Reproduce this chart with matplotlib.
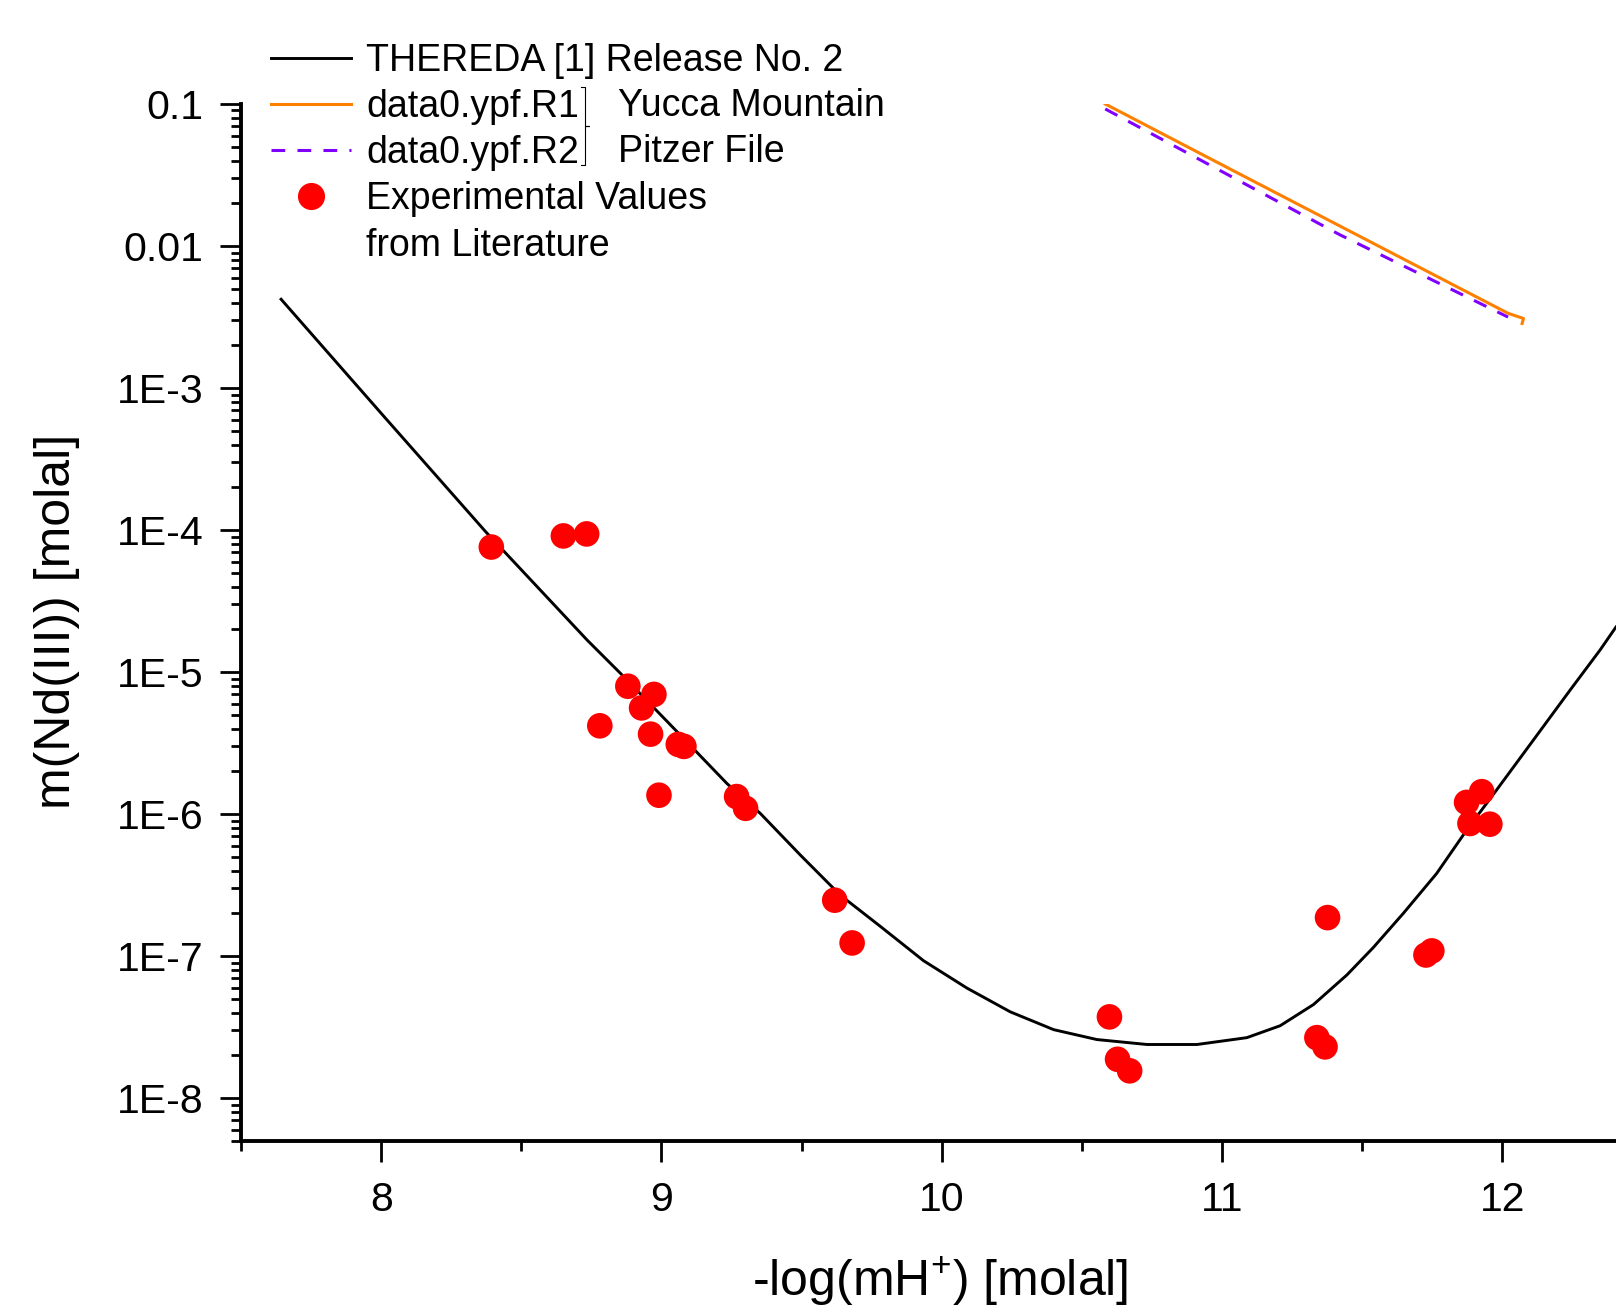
import matplotlib
matplotlib.use("Agg")
import matplotlib.pyplot as plt
from matplotlib.lines import Line2D
from matplotlib.ticker import FixedLocator, FuncFormatter, LogLocator, MultipleLocator, NullFormatter

plt.rcParams['font.family'] = ['Liberation Sans', 'DejaVu Sans']
plt.rcParams['mathtext.fontset'] = 'custom'
plt.rcParams['mathtext.rm'] = 'Liberation Sans'
plt.rcParams['mathtext.default'] = 'regular'

# THEREDA curve
thereda_x = [7.643, 8.010, 8.373, 8.735, 8.854, 9.056, 9.234, 9.353, 9.496, 9.638,
             9.781, 9.935, 10.090, 10.244, 10.399, 10.553, 10.732, 10.910, 11.088,
             11.207, 11.326, 11.445, 11.539, 11.646, 11.765, 11.872, 11.979, 12.110,
             12.241, 12.348, 12.405]
thereda_y = [4.22e-3, 6.31e-4, 9.73e-5, 1.68e-5, 9.79e-6, 3.80e-6, 1.64e-6, 1.01e-6,
             5.14e-7, 2.69e-7, 1.62e-7, 9.29e-8, 5.96e-8, 4.06e-8, 3.04e-8, 2.59e-8,
             2.39e-8, 2.39e-8, 2.67e-8, 3.24e-8, 4.57e-8, 7.38e-8, 1.15e-7, 2.00e-7,
             3.82e-7, 7.71e-7, 1.48e-6, 3.32e-6, 7.46e-6, 1.43e-5, 2.08e-5]

# data0.ypf.R1 (Yucca Mountain)
r1_x = [10.583, 11.035, 12.02, 12.075, 12.07]
r1_y = [0.100, 0.0343, 3.36e-3, 3.09e-3, 2.85e-3]

# data0.ypf.R2 (Pitzer File)
r2_x = [10.583, 11.42, 12.02]
r2_y = [0.0923, 0.0120, 3.16e-3]

# experimental values
exp_x = [8.393, 8.650, 8.733, 8.880, 8.973, 8.929, 8.780, 8.961, 9.06, 9.08, 8.991,
         9.268, 9.30, 9.618, 9.680, 10.598, 10.627, 10.67, 11.338, 11.367, 11.376,
         11.727, 11.748, 11.872, 11.926, 11.884, 11.955]
exp_y = [7.6e-5, 9.1e-5, 9.4e-5, 7.96e-6, 6.97e-6, 5.6e-6, 4.19e-6, 3.66e-6, 3.1e-6,
         3.0e-6, 1.36e-6, 1.33e-6, 1.10e-6, 2.48e-7, 1.24e-7, 3.74e-8, 1.88e-8,
         1.56e-8, 2.67e-8, 2.30e-8, 1.87e-7, 1.02e-7, 1.09e-7, 1.21e-6, 1.44e-6,
         8.6e-7, 8.5e-7]

y_ticks = [1e-8, 1e-7, 1e-6, 1e-5, 1e-4, 1e-3, 0.01, 0.1]
y_labels = ['1E-8', '1E-7', '1E-6', '1E-5', '1E-4', '1E-3', '0.01', '0.1']

W, H = 1616, 1314
fig = plt.figure(figsize=(W / 100, H / 100), dpi=100)
ax = fig.add_axes([241 / W, 1 - 1141 / H, 1 - 241 / W, (1141 - 104) / H])

l0, = ax.plot(thereda_x, thereda_y, color='black', lw=2.1, zorder=3)
l1, = ax.plot(r1_x, r1_y, color='#FF8000', lw=2.2, zorder=3)
l2, = ax.plot(r2_x, r2_y, color='#8000FF', lw=2.2, ls=(0, (4.5, 4)), zorder=2)
ax.scatter(exp_x, exp_y, s=340, color='#FF0000', edgecolors='none', zorder=4)

ax.set_yscale('log')
ax.set_xlim(7.5, 12.405)
ax.set_ylim(5e-9, 0.1)

ax.yaxis.set_major_locator(FixedLocator(y_ticks))
ax.yaxis.set_major_formatter(FuncFormatter(lambda v, p: dict(zip(y_ticks, y_labels)).get(v, '')))
ax.yaxis.set_minor_locator(LogLocator(base=10, subs=range(2, 10), numticks=50))
ax.yaxis.set_minor_formatter(NullFormatter())
ax.xaxis.set_major_locator(MultipleLocator(1))
ax.xaxis.set_minor_locator(MultipleLocator(0.5))

for s in ['top', 'right']:
    ax.spines[s].set_visible(False)
for s in ['left', 'bottom']:
    ax.spines[s].set_linewidth(2.8)

ax.tick_params(which='major', direction='out', length=15, width=2.0, labelsize=29.5, pad=12)
ax.tick_params(which='minor', direction='out', length=7.5, width=2.0)
ax.tick_params(axis='x', which='major', pad=14)

ax.set_xlabel('-log(mH$^{+}$) [molal]', fontsize=36)
ax.set_ylabel('m(Nd(III)) [molal]', fontsize=36)
ax.xaxis.set_label_coords((940 - 241) / 1375, -(1281 - 1141) / 1037)
ax.xaxis.label.set_va('center')
ax.yaxis.set_label_coords((57 - 241) / 1375, (1141 - 621) / 1037)
ax.yaxis.label.set_va('center')

# legend
dot = Line2D([], [], marker='o', ls='none', color='#FF0000', markersize=18.5)
blank = Line2D([], [], ls='none')
fig.legend([l0, l1, l2, dot, blank],
           ['THEREDA [1] Release No. 2', 'data0.ypf.R1', 'data0.ypf.R2',
            'Experimental Values', 'from Literature'],
           loc='upper left', bbox_to_anchor=(271 / W, 1 - 43 / H), frameon=False,
           fontsize=27, handlelength=2.13, handletextpad=0.4, labelspacing=0.27,
           borderpad=0, borderaxespad=0)

# bracket grouping R1/R2
bx = [581, 585, 585, 589, 585, 585, 581]
by = [87, 87, 126, 126, 126, 165, 165]
fig.add_artist(Line2D([v / W for v in bx], [1 - v / H for v in by],
                      transform=fig.transFigure, color='black', lw=0.8))
fig.text(618 / W, 1 - 106 / H, 'Yucca Mountain', fontsize=27, va='center', ha='left')
fig.text(618 / W, 1 - 152 / H, 'Pitzer File', fontsize=27, va='center', ha='left')

fig.savefig('out.png', dpi=100)
